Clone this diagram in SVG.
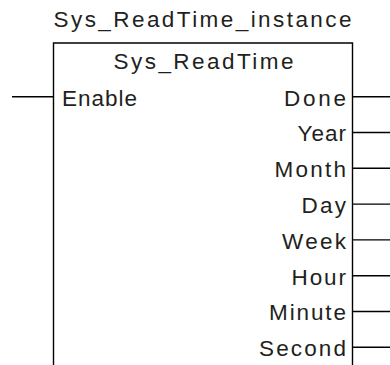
<svg xmlns="http://www.w3.org/2000/svg" width="390" height="365" viewBox="0 0 390 365">
<style>
text{font-family:"Liberation Sans",Arial,sans-serif;font-size:22.5px;fill:#231f20}
.r{text-anchor:end}
.ln{stroke:#000;stroke-width:1.4;fill:none}
</style>
<rect width="390" height="365" fill="#fff"/>
<g id="block">
<text x="53.5" y="27" textLength="298" lengthAdjust="spacing">Sys_ReadTime_instance</text>
<path class="ln" d="M53.5,365 V43 H352.5 V365"/>
<text x="113.5" y="68.5" textLength="180" lengthAdjust="spacing">Sys_ReadTime</text>
<text x="62" y="105.5" textLength="75" lengthAdjust="spacing">Enable</text>
<text class="r" x="346" y="105.5" textLength="62" lengthAdjust="spacing">Done</text>
<text class="r" x="346" y="141.3" textLength="48.5" lengthAdjust="spacing">Year</text>
<text class="r" x="346" y="177.1" textLength="71.5" lengthAdjust="spacing">Month</text>
<text class="r" x="346" y="212.9" textLength="44.5" lengthAdjust="spacing">Day</text>
<text class="r" x="346" y="248.7" textLength="64" lengthAdjust="spacing">Week</text>
<text class="r" x="346" y="284.5" textLength="54.5" lengthAdjust="spacing">Hour</text>
<text class="r" x="346" y="320.3" textLength="77" lengthAdjust="spacing">Minute</text>
<text class="r" x="346" y="356.1" textLength="87" lengthAdjust="spacing">Second</text>
</g>
<g id="connectors" class="ln">
<path class="ln" d="M12,96.7 H53.5"/>
<path class="ln" d="M352.5,96.7 H390 M352.5,132.5 H390 M352.5,168.3 H390 M352.5,204.1 H390 M352.5,239.9 H390 M352.5,275.7 H390 M352.5,311.5 H390 M352.5,347.3 H390"/>
</g>
</svg>
